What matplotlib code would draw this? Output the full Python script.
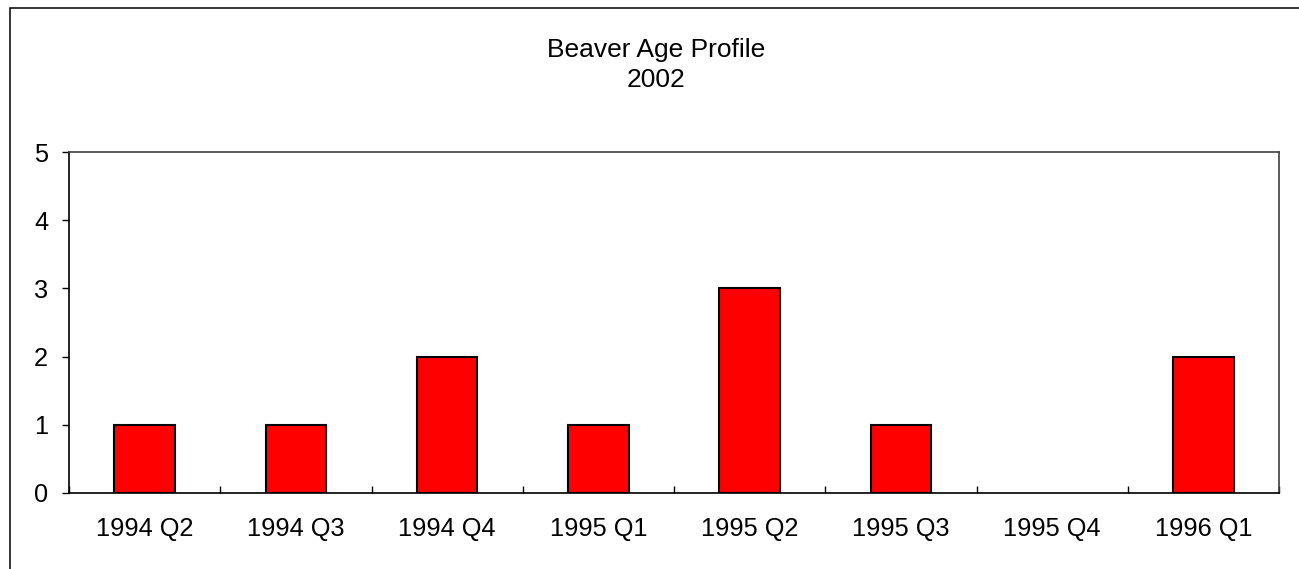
import matplotlib
matplotlib.use("Agg")
import matplotlib.pyplot as plt
from matplotlib.patches import Rectangle
import numpy as np

categories = ["1994 Q2", "1994 Q3", "1994 Q4", "1995 Q1", "1995 Q2", "1995 Q3", "1995 Q4", "1996 Q1"]
values = [1, 1, 2, 1, 3, 1, 0, 2]
yticks = [0, 1, 2, 3, 4, 5]
title_lines = ["Beaver Age Profile", "2002"]

plt.rcParams['font.family'] = ['Liberation Sans', 'DejaVu Sans']

W, H = 1299, 569
fig = plt.figure(figsize=(W / 100, H / 100), dpi=100)

# outer chart frame
fig.patches.append(Rectangle((10 / W, -0.2), 1.5, 1 - 8 / H + 0.2, transform=fig.transFigure,
                             fill=False, edgecolor='black', linewidth=1.1, clip_on=False))

ax = fig.add_axes([69 / W, 1 - 493 / H, (1279 - 69) / W, (493 - 152) / H])
x = np.arange(len(categories))
edge_w = [1.5 if v > 0 else 0 for v in values]
ax.bar(x, values, width=0.40, color='#FF0000', edgecolor='black', linewidth=edge_w, zorder=3)

ax.set_xlim(-0.5, len(categories) - 0.5)
ax.set_ylim(0, 5)
ax.set_yticks(yticks)
ax.set_xticks(x)
ax.set_xticklabels(categories)
ax.set_xticks(np.arange(len(categories) + 1) - 0.5, minor=True)

ax.tick_params(axis='x', which='major', length=0, pad=17, labelsize=18.3)
ax.tick_params(axis='x', which='minor', direction='in', length=5, width=1, color='black')
ax.tick_params(axis='y', which='major', direction='out', length=5, width=1, pad=10, labelsize=18.3)

for side in ['left', 'bottom']:
    ax.spines[side].set_color('black')
    ax.spines[side].set_linewidth(1.2)
for side in ['top', 'right']:
    ax.spines[side].set_color('#404040')
    ax.spines[side].set_linewidth(1.2)

fig.text(656 / W, 1 - 50 / H, title_lines[0], ha='center', va='center', fontsize=19)
fig.text(656 / W, 1 - 80 / H, title_lines[1], ha='center', va='center', fontsize=19)

fig.savefig("out.png", dpi=100)
